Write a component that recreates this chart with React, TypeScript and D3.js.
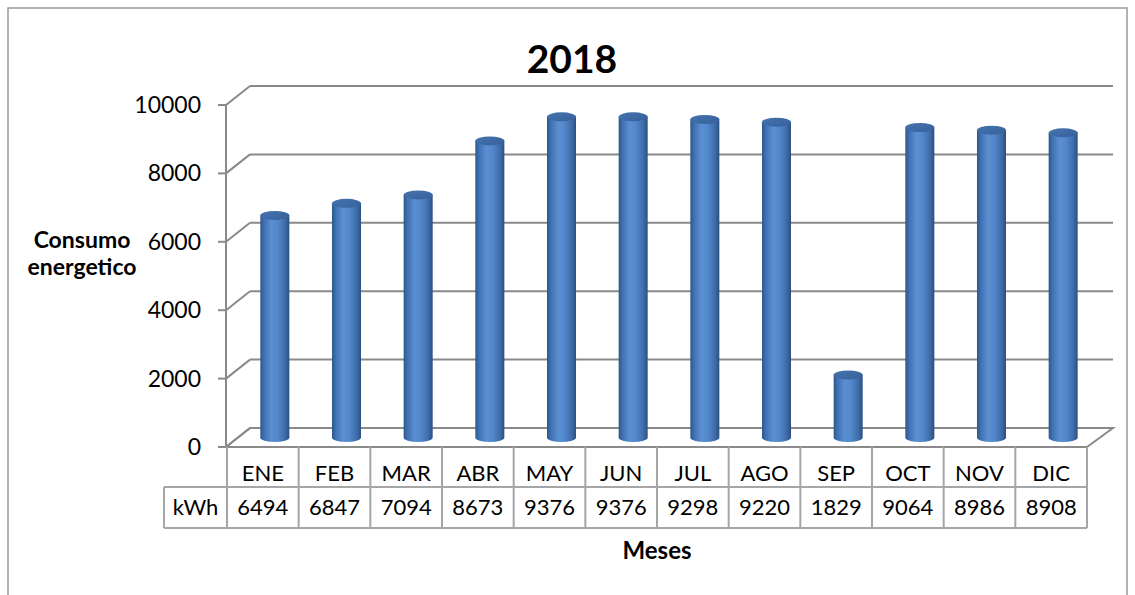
import React from "react";
import * as d3 from "d3";

const months = ["ENE", "FEB", "MAR", "ABR", "MAY", "JUN", "JUL", "AGO", "SEP", "OCT", "NOV", "DIC"];
const kwh = [6494, 6847, 7094, 8673, 9376, 9376, 9298, 9220, 1829, 9064, 8986, 8908];
const yTicks = [0, 2000, 4000, 6000, 8000, 10000];

const W = 1135;
const H = 595;
const FONT = "Lato, 'Open Sans', sans-serif";

// 3d depth of the plot box
const DX = 24;
const DY = -19;

const App: React.FC = () => {
  const x = d3.scaleBand<string>().domain(months).range([227, 1087]);
  const y = d3.scaleLinear().domain([0, 10000]).range([447, 105]);

  const cylW = x.bandwidth() * 0.405;
  const rx = cylW / 2;
  const ry = 4.5;

  const tableLeft = 164;
  const rowTop = y(0);
  const rowMid = 487;
  const rowBot = 528;
  const grid = "#8a8a8a";
  const tableLine = "#a6a6a6";

  return (
    <svg
      width={W}
      height={H}
      style={{ position: "absolute", left: 0, top: 0, background: "#fff" }}
    >
      <defs>
        <linearGradient id="cyl" x1="0" x2="1" y1="0" y2="0">
          <stop offset="0%" stopColor="#2d568c" />
          <stop offset="12%" stopColor="#3f6fb0" />
          <stop offset="38%" stopColor="#5b8fd2" />
          <stop offset="60%" stopColor="#5287cb" />
          <stop offset="85%" stopColor="#3f6ca9" />
          <stop offset="100%" stopColor="#2c4f80" />
        </linearGradient>
        <linearGradient id="cylTop" x1="0" x2="1" y1="0" y2="1">
          <stop offset="0%" stopColor="#4673ae" />
          <stop offset="100%" stopColor="#36619b" />
        </linearGradient>
      </defs>

      {/* outer chart border */}
      <rect x={8} y={8} width={1119} height={H + 20} fill="none" stroke="#9a9a9a" strokeWidth={1.5} />

      {/* title */}
      <text x={572} y={73} textAnchor="middle" fontFamily={FONT} fontWeight="bold" fontSize={39}>
        2018
      </text>

      {/* walls: back gridlines and side diagonals */}
      {yTicks.map((t) => (
        <g key={t} stroke={grid} strokeWidth={2} fill="none">
          {t > 0 && <line x1={226 + DX} x2={1113} y1={y(t) + DY} y2={y(t) + DY} />}
          <line x1={226} x2={226 + DX} y1={y(t)} y2={y(t) + DY} />
          <line x1={218} x2={226} y1={y(t)} y2={y(t)} />
        </g>
      ))}
      <line x1={226} x2={226} y1={y(10000)} y2={y(0)} stroke={grid} strokeWidth={2} />

      {/* floor */}
      <path
        d={`M226,${y(0)} L${226 + DX},${y(0) + DY} L1113,${y(0) + DY} L1087,${y(0)}`}
        fill="none"
        stroke={grid}
        strokeWidth={2}
      />

      {/* tick labels */}
      {yTicks.map((t) => (
        <text key={t} x={201} y={y(t) + 8} textAnchor="end" fontFamily={FONT} fontSize={23}>
          {t}
        </text>
      ))}

      {/* axis title */}
      <text fontFamily={FONT} fontWeight="bold" fontSize={23} textAnchor="middle">
        <tspan x={82} y={248}>Consumo</tspan>
        <tspan x={82} y={275}>energetico</tspan>
      </text>

      {/* cylinders */}
      {months.map((m, i) => {
        const cx = (x(m) as number) + x.bandwidth() / 2 + DX / 2;
        const top = y(kwh[i]) + DY / 2;
        const bot = y(0) + DY / 2;
        const x0 = cx - rx;
        const x1 = cx + rx;
        return (
          <g key={m}>
            <path
              d={`M${x0},${top} L${x0},${bot} A${rx},${ry} 0 0 0 ${x1},${bot} L${x1},${top} Z`}
              fill="url(#cyl)"
            />
            <ellipse cx={cx} cy={top} rx={rx} ry={ry} fill="url(#cylTop)" />
          </g>
        );
      })}

      {/* data table */}
      <g stroke={tableLine} strokeWidth={2} fill="none">
        <line x1={226} x2={1087} y1={rowTop} y2={rowTop} stroke={grid} />
        <line x1={tableLeft} x2={1087} y1={rowMid} y2={rowMid} />
        <line x1={tableLeft} x2={1087} y1={rowBot} y2={rowBot} />
        <line x1={tableLeft} x2={tableLeft} y1={rowMid} y2={rowBot} />
        {months.map((m) => (
          <line key={m} x1={x(m) as number} x2={x(m) as number} y1={rowTop} y2={rowBot} />
        ))}
        <line x1={1087} x2={1087} y1={rowTop} y2={rowBot} />
      </g>
      <g fontFamily={FONT} fontSize={22} textAnchor="middle">
        {months.map((m, i) => (
          <g key={m}>
            <text x={(x(m) as number) + x.bandwidth() / 2} y={481}>
              {m}
            </text>
            <text x={(x(m) as number) + x.bandwidth() / 2} y={515}>
              {kwh[i]}
            </text>
          </g>
        ))}
        <text x={(tableLeft + 227) / 2} y={515}>
          kWh
        </text>
      </g>

      <text x={657} y={559} textAnchor="middle" fontFamily={FONT} fontWeight="bold" fontSize={24}>
        Meses
      </text>
    </svg>
  );
};

export default App;
